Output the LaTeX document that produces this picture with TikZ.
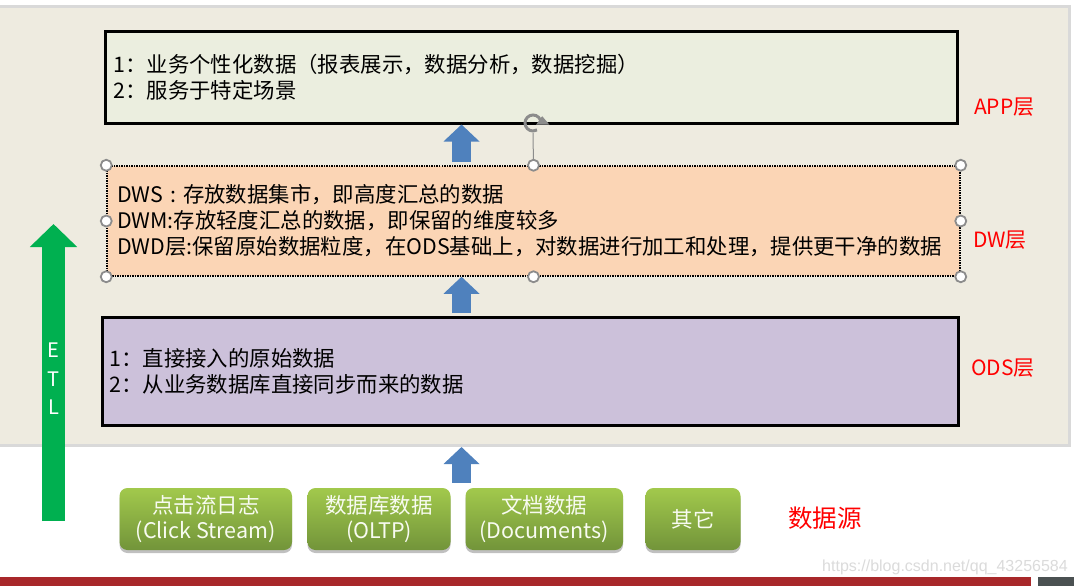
\documentclass[tikz,border=0pt]{standalone}
\usepackage{fontspec}
\setmainfont{Noto Sans CJK SC}
\newfontfamily\wmfont{Liberation Sans}
\usetikzlibrary{arrows.meta,shadows}
\definecolor{panelbg}{HTML}{EEEBE0}
\definecolor{panelrule}{HTML}{D9D9D9}
\definecolor{appfill}{HTML}{EBEEDF}
\definecolor{dwfill}{HTML}{FBD5B5}
\definecolor{odsfill}{HTML}{CCC1DA}
\definecolor{flowblue}{HTML}{4F81BD}
\definecolor{etlgreen}{HTML}{00B050}
\definecolor{srctop}{HTML}{A2C94C}
\definecolor{srcbot}{HTML}{72943A}
\definecolor{barred}{HTML}{A8282A}
\definecolor{bargray}{HTML}{4B5152}
\definecolor{handlegray}{HTML}{8C8C8C}
\definecolor{layerred}{HTML}{FF0000}

\begin{document}
\begin{tikzpicture}[x=1pt,y=-1pt,
  layerbox/.style={draw=black,line width=3pt,align=left,inner ysep=0pt,font=\fontsize{21.4}{26}\selectfont},
  layerlbl/.style={anchor=west,text=layerred,inner sep=0pt,font=\fontsize{21}{24}\selectfont},
  fatarrow/.style={flowblue,line width=19pt,-{Triangle[width=35pt,length=17pt]}},
  etlarrow/.style={etlgreen,line width=23.5pt,-{Triangle[width=46pt,length=23pt]}},
  etlletter/.style={text=white,inner sep=0pt,font=\fontsize{20}{20}\selectfont},
  srcbtn/.style={rounded corners=8pt,top color=srctop,bottom color=srcbot,text=white!92!srctop,
    align=center,minimum height=62pt,inner sep=0pt,font=\fontsize{21.5}{25}\selectfont,
    drop shadow={shadow xshift=0pt,shadow yshift=-3pt,opacity=.35,fill=black!70}},
  handle/.style={circle,draw=handlegray,fill=white,line width=1.8pt,inner sep=0pt,minimum size=11pt}]
   \useasboundingbox (0,0) rectangle (1074,586);
   \fill[white] (0,0) rectangle (1074,586);
   \node[draw=panelrule,line width=3pt,fill=panelbg,minimum width=1076pt,minimum height=439pt] (panel) at (531,226) {};
   \node[layerbox,fill=appfill,text width=836pt,inner xsep=8pt,minimum height=91pt] (app) at (531.5,77.5)
     {1：业务个性化数据（报表展示，数据分析，数据挖掘）\\2：服务于特定场景};
   \node[layerbox,fill=dwfill,line width=1.5pt,dash pattern=on 1.5pt off 1pt,text width=833pt,inner xsep=10pt,minimum height=110pt] (dw) at (533.5,221)
     {DWS : 存放数据集市，即高度汇总的数据\\DWM:存放轻度汇总的数据，即保留的维度较多\\DWD层:保留原始数据粒度，在ODS基础上，对数据进行加工和处理，提供更干净的数据};
   \node[layerbox,fill=odsfill,text width=841pt,inner xsep=7.5pt,minimum height=108pt] (ods) at (530,371.5)
     {1：直接接入的原始数据\\2：从业务数据库直接同步而来的数据};
   \foreach \a [count=\i] in {north west,north,north east,west,east,south west,south,south east}
     \node[handle] (h\i) at (dw.\a) {};
   \node[circle,minimum size=20pt,inner sep=0pt] (rot) at (533,123) {};
   \draw[handlegray,line width=1pt] (rot.south) -- (h2);
   \draw[handlegray,line width=3pt] (rot.center) ++(8,0) arc[start angle=0,end angle=300,radius=8pt];
   \draw[handlegray,line width=1pt,fill=handlegray] ([xshift=5pt,yshift=-1pt]rot.east) -- ([xshift=-6pt,yshift=-1pt]rot.east) -- ([xshift=-1pt,yshift=6pt]rot.east) -- cycle;
   \node[layerlbl] (applbl) at (974,107) {APP层};
   \node[layerlbl] (dwlbl) at (973,240) {DW层};
   \node[layerlbl] (odslbl) at (971,368) {ODS层};
   \coordinate (flowx) at (461.5,0);
   \draw[fatarrow,shorten <=3pt] (dw.north -| flowx) -- (app.south -| flowx);
   \draw[fatarrow,shorten <=3pt] (ods.north -| flowx) -- (dw.south -| flowx);
   \coordinate (etlfoot) at (53.5,521);
   \coordinate (etltip) at (53.5,224);
   \draw[etlarrow] (etlfoot) -- (etltip);
   \node[etlletter] (etle) at (53.5,350) {E};
   \node[etlletter] (etlt) at (53.5,379) {T};
   \node[etlletter] (etll) at (53.5,407) {L};
   \node[srcbtn,minimum width=172.5pt] (src1) at (205.75,519) {点击流日志\\(Click Stream)};
   \node[srcbtn,minimum width=143pt] (src2) at (379,519) {数据库数据\\(OLTP)};
   \node[srcbtn,minimum width=157.5pt] (src3) at (544.25,519) {文档数据\\(Documents)};
   \node[srcbtn,minimum width=95pt] (src4) at (693,519) {其它};
   \node[layerlbl,font=\fontsize{24.5}{26}\selectfont] (srclbl) at (788,518) {数据源};
   \draw[fatarrow,shorten <=5pt] (src2.north -| flowx) -- (panel.south -| flowx);
   \node[text=black!14,inner sep=0pt,font=\wmfont\fontsize{16}{16}\selectfont] (wm) at (945,567) {https://blog.csdn.net/qq\_43256584};
   \fill[barred] (0,577) rectangle (1031,586);
   \fill[bargray] (1038,577) rectangle (1074,586);
\end{tikzpicture}
\end{document}
